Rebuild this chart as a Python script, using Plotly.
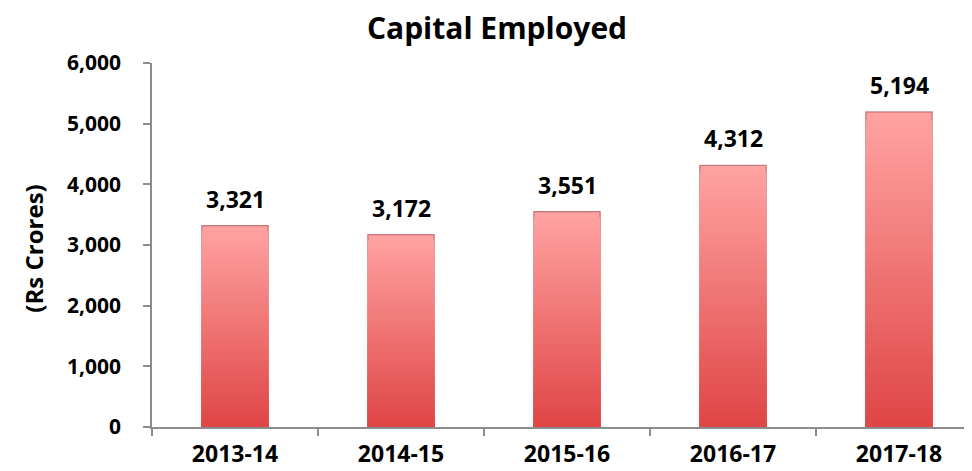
import plotly.graph_objects as go

categories = ["2013-14", "2014-15", "2015-16", "2016-17", "2017-18"]
values = [3321, 3172, 3551, 4312, 5194]
y_ticks = [0, 1000, 2000, 3000, 4000, 5000, 6000]

top_rgb = (255, 162, 162)
bot_rgb = (224, 70, 70)
N = 36
FONT = "Open Sans"
OFF = 8  # page body margin
PLOT_W = 972 - (152 - OFF)

fig = go.Figure()
for i in range(N):
    frac = 1 - i / N
    t = i / (N - 1)
    c = tuple(int(round(top_rgb[k] + (bot_rgb[k] - top_rgb[k]) * t)) for k in range(3))
    fig.add_trace(go.Bar(
        x=categories,
        y=[v * frac for v in values],
        width=0.4,
        marker=dict(color=f"rgb{c}",
                    line=dict(color="rgba(150,50,50,0.55)" if i == 0 else "rgba(0,0,0,0)",
                              width=1.2 if i == 0 else 0)),
        showlegend=False,
        hoverinfo="skip",
    ))

for c, v in zip(categories, values):
    fig.add_annotation(x=c, y=v, text=f"{v:,}", showarrow=False, yshift=27,
                       font=dict(family=FONT, size=23, color="black", weight="bold"))

fig.add_annotation(xref="paper", yref="paper", x=(34 - 152) / PLOT_W, y=0.49,
                   xanchor="center", yanchor="middle", textangle=-90, showarrow=False,
                   text="(Rs Crores)",
                   font=dict(family=FONT, size=24, color="black", weight="bold"))

fig.update_layout(
    width=972, height=471,
    margin=dict(l=152 - OFF, r=0, t=63 - OFF, b=44 + OFF),
    plot_bgcolor="white", paper_bgcolor="white",
    barmode="overlay",
    title=dict(text="Capital Employed", x=(497 - OFF) / 972, xanchor="center", xref="container",
               y=1 - (28 - OFF) / 471, yanchor="middle", yref="container",
               font=dict(family=FONT, size=30, color="black", weight="bold")),
    font=dict(family=FONT, color="black"),
)
fig.update_xaxes(
    type="category", range=[-0.5, -0.5 + PLOT_W / 166], automargin=False,
    showline=True, linecolor="#8c8c8c", linewidth=1.5,
    ticks="outside", tickson="boundaries", ticklen=7, tickcolor="#8c8c8c", tickwidth=1.5,
    ticklabelstandoff=6,
    tickfont=dict(family=FONT, size=23, color="black", weight="bold"),
    showgrid=False, zeroline=False,
)
fig.update_yaxes(
    range=[0, 6000], tickvals=y_ticks, tickformat=",d", automargin=False,
    showline=True, linecolor="#8c8c8c", linewidth=1.5,
    ticks="outside", ticklen=7, tickcolor="#8c8c8c", tickwidth=1.5,
    ticklabelstandoff=18,
    tickfont=dict(family=FONT, size=21, color="black", weight="bold"),
    showgrid=False, zeroline=False,
)

fig.write_html("out.html")
